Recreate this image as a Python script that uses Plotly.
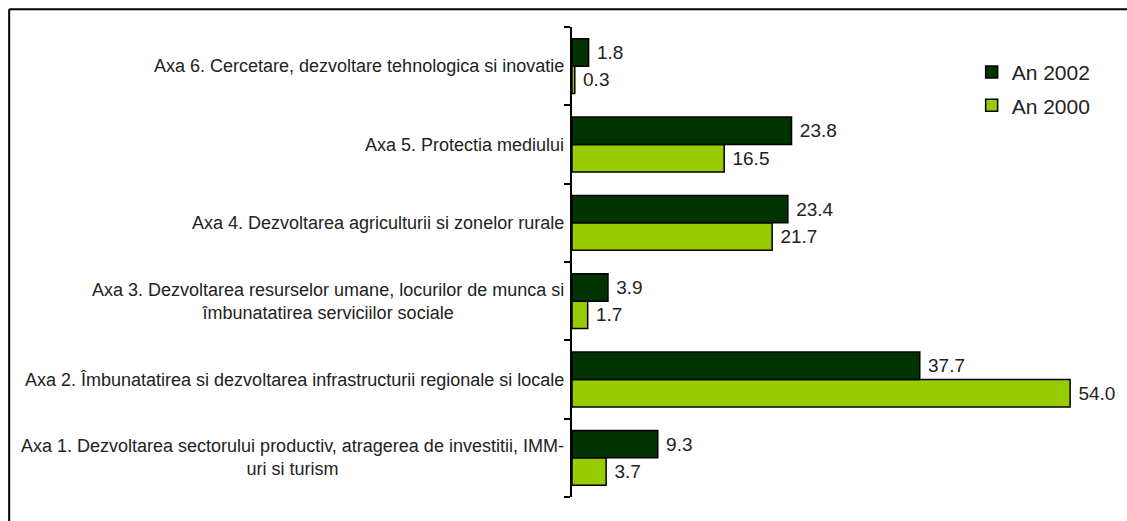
import plotly.graph_objects as go

categories = ["Axa 1", "Axa 2", "Axa 3", "Axa 4", "Axa 5", "Axa 6"]
category_labels = [
    "Axa 1. Dezvoltarea sectorului productiv, atragerea de investitii, IMM-<br>uri si turism",
    "Axa 2. Îmbunatatirea si dezvoltarea infrastructurii regionale si locale",
    "Axa 3. Dezvoltarea resurselor umane, locurilor de munca si<br>îmbunatatirea serviciilor sociale",
    "Axa 4. Dezvoltarea agriculturii si zonelor rurale",
    "Axa 5. Protectia mediului",
    "Axa 6. Cercetare, dezvoltare tehnologica si inovatie",
]
values_2002 = [9.3, 37.7, 3.9, 23.4, 23.8, 1.8]
values_2000 = [3.7, 54.0, 1.7, 21.7, 16.5, 0.3]

FONT = "Liberation Sans Narrow, Arial Narrow, Liberation Sans, sans-serif"

fig = go.Figure()
fig.add_trace(go.Bar(
    y=categories, x=values_2000, orientation="h", name="An 2000",
    marker=dict(color="#99cc00", line=dict(color="#000000", width=1.5)),
    text=[f"\u00a0{v:.1f}" for v in values_2000], textposition="outside",
    textfont=dict(family=FONT, size=19, color="#222222"),
    cliponaxis=False, legendgroup="a", legendrank=2,
))
fig.add_trace(go.Bar(
    y=categories, x=values_2002, orientation="h", name="An 2002",
    marker=dict(color="#003300", line=dict(color="#000000", width=1.5)),
    text=[f"\u00a0{v:.1f}" for v in values_2002], textposition="outside",
    textfont=dict(family=FONT, size=19, color="#222222"),
    cliponaxis=False, legendgroup="b", legendrank=1,
))

for cat, lab in zip(categories, category_labels):
    fig.add_annotation(
        x=0, xref="paper", xanchor="right", xshift=-6,
        y=cat, yref="y", yanchor="middle",
        text=lab, showarrow=False, align="center",
        font=dict(family=FONT, size=18, color="#222222"),
    )

# outer frame (top and left edges visible)
fig.add_shape(type="line", xref="paper", yref="paper",
              x0=-1.052, x1=1.2, y0=1.038, y1=1.038,
              line=dict(color="black", width=2))
fig.add_shape(type="line", xref="paper", yref="paper",
              x0=-1.052, x1=-1.052, y0=1.038, y1=-0.2,
              line=dict(color="black", width=2))

fig.update_layout(
    width=1127, height=521,
    margin=dict(l=572, r=20, t=27, b=24),
    paper_bgcolor="white", plot_bgcolor="white",
    barmode="group", bargap=0.30, bargroupgap=0,
    font=dict(family=FONT, color="#222222"),
    showlegend=True,
    legend=dict(x=0.747, y=0.947, xanchor="left", yanchor="top",
                font=dict(family=FONT, size=21, color="#222222"),
                tracegroupgap=3, traceorder="grouped",
                bgcolor="rgba(0,0,0,0)"),
    xaxis=dict(range=[0, 58], showgrid=False, zeroline=False,
               showticklabels=False, showline=False, ticks=""),
    yaxis=dict(showgrid=False, zeroline=False, showticklabels=False,
               showline=True, linecolor="black", linewidth=2,
               ticks="outside", tickson="boundaries", ticklen=6,
               tickwidth=2, tickcolor="black"),
)

fig.write_html(
    "out.html",
    config={"displayModeBar": False},
    post_script="document.body.style.margin='0';document.body.style.overflow='hidden';",
)
